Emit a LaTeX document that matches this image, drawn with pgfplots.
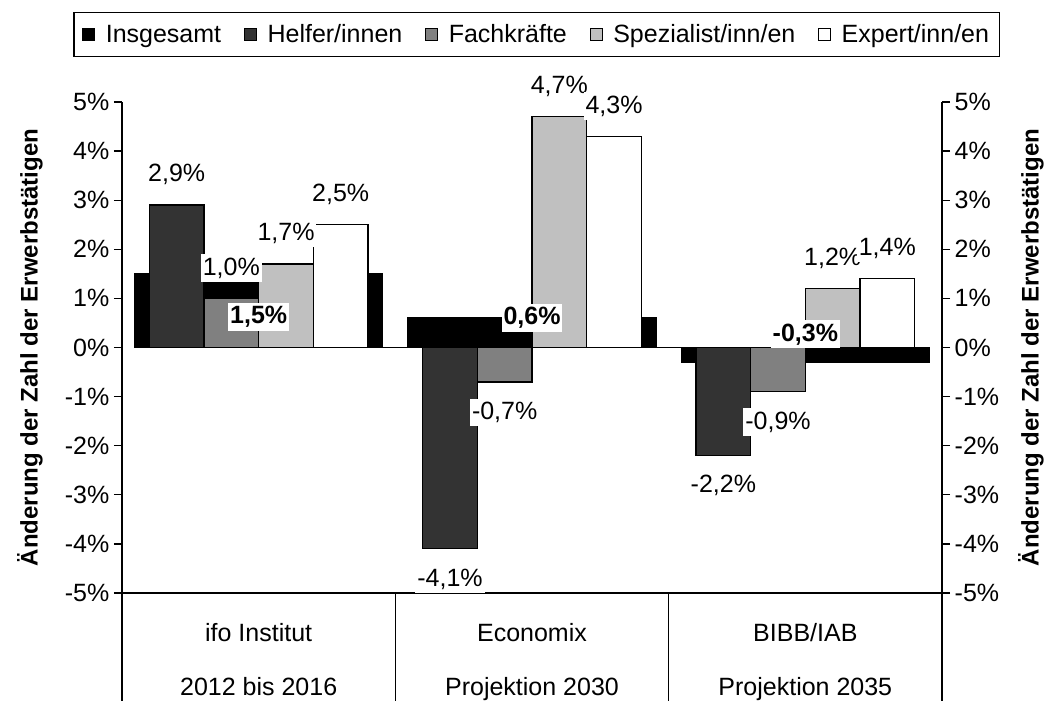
\documentclass[border=0pt]{standalone}
\usepackage{fontspec}
\setmainfont{Liberation Sans}
\usepackage{pgfplots}
\usepackage{pgfplotstable}
\pgfplotsset{compat=1.18}

\pgfplotstableread{
x ins hel fach spez exp ly
0 1.5 2.9 1.0 1.7 2.5 0.62
1 0.6 -4.1 -0.7 4.7 4.3 0.60
2 -0.3 -2.2 -0.9 1.2 1.4 0.27
}\data

\newcommand\fs{\fontsize{18.75}{22.5}\selectfont}
\definecolor{helfer}{HTML}{333333}
\definecolor{fach}{HTML}{808080}
\definecolor{spez}{HTML}{C0C0C0}

\begin{document}
\begin{tikzpicture}
\pgfplotsset{
  base/.style={
    scale only axis, width=615pt, height=368.25pt,
    xmin=-0.5, xmax=2.5, ymin=-5, ymax=5,
    clip=false,
    /pgf/number format/assume math mode=true,
    ytick={-5,-4,...,5},
    yticklabel={\pgfmathprintnumber{\tick}\%},
    yticklabel style={font=\fs},
    tick align=outside, major tick length=6pt,
    every tick/.style={black, line width=1pt},
    ylabel={\fontsize{18}{22}\selectfont\bfseries Änderung der Zahl der Erwerbstätigen},
  },
  sq/.style={legend image code/.code={\draw[##1, line width=0.8pt] (0pt,-4.5pt) rectangle (9pt,4.5pt);}},
  bar/.style={ybar, bar width=0.2, bar shift=#1, draw=black, line width=1pt},
  lab/.style={forget plot, ybar, bar width=0.2, bar shift=0, draw=none, fill=none,
    point meta=\thisrow{#1},
    nodes near coords={\pgfmathprintnumber[fixed,fixed zerofill,precision=1,use comma]{\pgfplotspointmeta}\%},
    every node near coord/.append style={font=\fs, fill=white, inner xsep=1.5pt, inner ysep=2.5pt, outer ysep=12.5pt, text=black}},
}
\begin{axis}[base,
  axis x line*=bottom, axis y line*=left,
  x axis line style={-, line width=1pt}, y axis line style={-, line width=1pt},
  xtick={0,1,2},
  xticklabels={{ifo Institut\\2012 bis 2016},{Economix\\Projektion 2030},{BIBB/IAB\\Projektion 2035}},
  xticklabel style={align=center, font=\fontsize{18.75}{40.5}\selectfont, yshift=-13pt},
  every major x tick/.style={draw=none},
  ylabel style={at={(rel axis cs:-0.1122,0.5)}, anchor=center},
  legend style={at={(rel axis cs:0.506,1.1375)}, anchor=center, legend columns=5,
    draw=black, line width=1pt, font=\fs, inner ysep=7pt, inner xsep=6pt,
    /tikz/every odd column/.append style={column sep=6pt},
    /tikz/every even column/.append style={column sep=15pt}},
  legend cell align=left,
]
\draw[line width=1pt] (axis cs:-0.4535,0) -- (axis cs:2.4535,0);
\addplot[ybar, bar width=0.907, bar shift=0, fill=black, draw=black, line width=1pt, sq] table[x=x,y=ins]{\data};
\addplot[bar=-0.3, fill=helfer, sq] table[x=x,y=hel]{\data};
\addplot[bar=-0.1, fill=fach, sq] table[x=x,y=fach]{\data};
\addplot[bar=0.1, fill=spez, sq] table[x=x,y=spez]{\data};
\addplot[bar=0.3, fill=white, sq] table[x=x,y=exp]{\data};
\legend{Insgesamt,Helfer/innen,Fachkräfte,Spezialist/inn/en,Expert/inn/en}
\addplot[lab=hel] table[x expr=\thisrow{x}-0.3,y=hel]{\data};
\addplot[lab=fach] table[x expr=\thisrow{x}-0.1,y=fach]{\data};
\addplot[lab=spez] table[x expr=\thisrow{x}+0.1,y=spez]{\data};
\addplot[lab=exp] table[x expr=\thisrow{x}+0.3,y=exp]{\data};
\addplot[forget plot, draw=none, mark=none, point meta=\thisrow{ins},
  nodes near coords={\bfseries\pgfmathprintnumber[fixed,fixed zerofill,precision=1,use comma]{\pgfplotspointmeta}\%},
  every node near coord/.append style={anchor=center, font=\fs, fill=white, inner xsep=1.5pt, inner ysep=2.5pt, text=black}]
  table[x=x,y=ly]{\data};
\draw[line width=1pt] (axis cs:-0.5,-5) -- ++(0pt,-81pt);
\draw[line width=1pt] (axis cs:0.5,-5) -- ++(0pt,-81pt);
\draw[line width=1pt] (axis cs:1.5,-5) -- ++(0pt,-81pt);
\draw[line width=1pt] (axis cs:2.5,-5) -- ++(0pt,-81pt);
\end{axis}
\begin{axis}[base,
  axis x line=none, axis y line*=right,
  y axis line style={-, line width=1pt},
  ylabel style={at={(rel axis cs:1.1085,0.5)}, anchor=center},
]
\addplot[draw=none] coordinates {(0,0)};
\end{axis}
\pgfresetboundingbox
\path[use as bounding box] (-91.5pt,-81pt) rectangle (693.75pt,444.75pt);
\end{tikzpicture}
\end{document}
